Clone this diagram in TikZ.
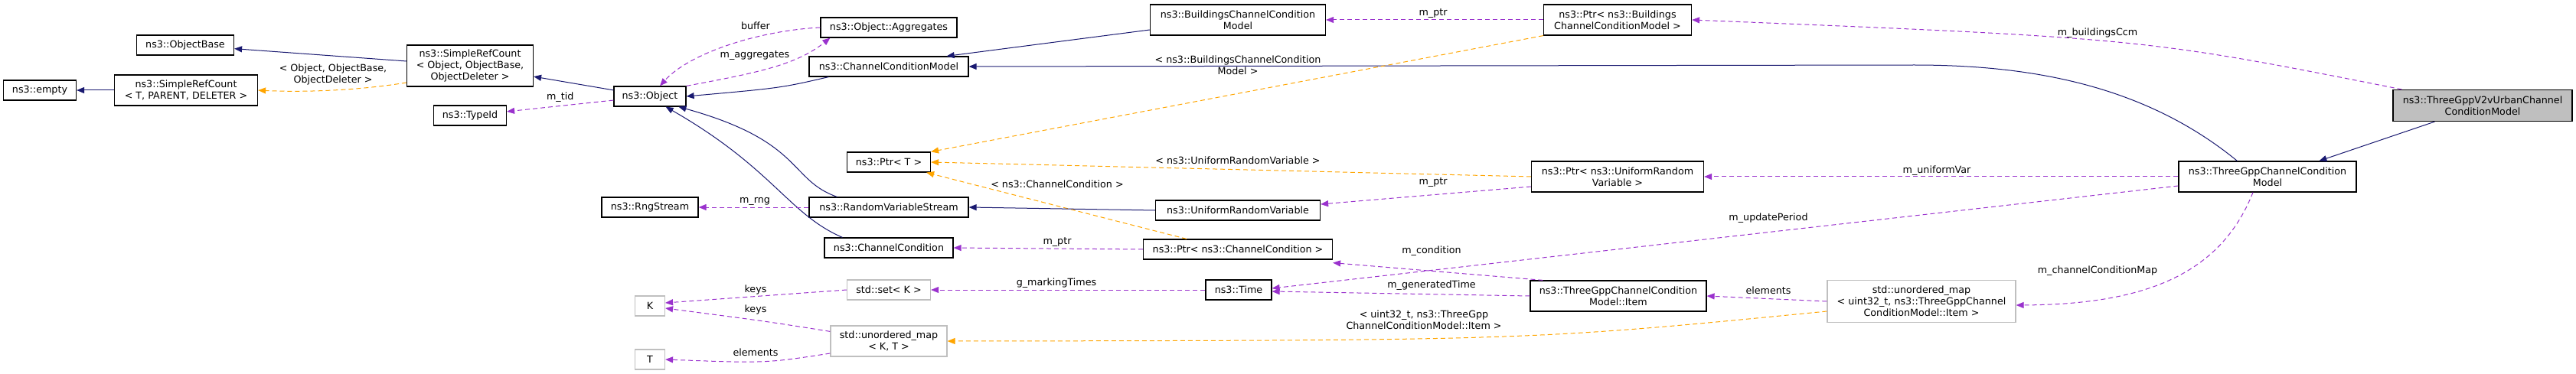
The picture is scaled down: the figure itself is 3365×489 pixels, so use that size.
\documentclass[tikz,border=0pt]{standalone}
\usepackage{fontspec}
\setmainfont{DejaVu Sans}
\usetikzlibrary{arrows.meta}
\definecolor{nav}{HTML}{191970}
\definecolor{pur}{HTML}{9A32CD}
\definecolor{org}{HTML}{FFA500}
\begin{document}
\begin{tikzpicture}[x=1pt,y=-1pt,
  font=\fontsize{12.7}{15}\selectfont,
  box/.style={draw=black,line width=1.2pt,fill=white,inner sep=0pt,align=center},
  gbox/.style={box,draw=black!25},
  inh/.style={draw=nav,line width=1pt,-{Triangle[length=10pt,width=8pt]}},
  usg/.style={draw=pur,dashed,dash pattern=on 6pt off 4pt,line width=1pt,-{Triangle[length=10pt,width=8pt]}},
  tpl/.style={draw=org,dashed,dash pattern=on 6pt off 4pt,line width=1pt,-{Triangle[length=10pt,width=8pt]}},
  lbl/.style={inner sep=0pt,align=center}]
\useasboundingbox (0,0) rectangle (3365,489);
\node[box,minimum width=95pt,minimum height=26pt] (empty) at (52,118) {ns3::empty};
\node[box,minimum width=187pt,minimum height=40pt] (srcT) at (243,118) {ns3::SimpleRefCount\\{}< T, PARENT, DELETER >};
\node[box,minimum width=127pt,minimum height=26pt] (obase) at (242,59) {ns3::ObjectBase};
\node[box,minimum width=165pt,minimum height=54pt] (srcO) at (614,86) {ns3::SimpleRefCount\\{}< Object, ObjectBase,\\ObjectDeleter >};
\node[box,minimum width=95pt,minimum height=26pt] (tid) at (614,151) {ns3::TypeId};
\node[box,minimum width=94pt,minimum height=26pt] (obj) at (849,126) {ns3::Object};
\node[box,minimum width=126pt,minimum height=26pt] (rng) at (849,271) {ns3::RngStream};
\node[gbox,minimum width=39pt,minimum height=26pt] (K) at (849,400) {K};
\node[gbox,minimum width=39pt,minimum height=26pt] (T) at (849,470) {T};
\node[box,minimum width=178pt,minimum height=26pt] (agg) at (1161,36) {ns3::Object::Aggregates};
\node[box,minimum width=208pt,minimum height=26pt] (ccm) at (1161,87) {ns3::ChannelConditionModel};
\node[box,minimum width=109pt,minimum height=26pt] (ptrT) at (1161,212) {ns3::Ptr< T >};
\node[box,minimum width=208pt,minimum height=26pt] (rvs) at (1161,271) {ns3::RandomVariableStream};
\node[box,minimum width=168pt,minimum height=26pt] (cc) at (1161,324) {ns3::ChannelCondition};
\node[gbox,minimum width=109pt,minimum height=26pt] (set) at (1161,379) {std::set< K >};
\node[gbox,minimum width=152pt,minimum height=40pt] (umap) at (1161,446) {std::unordered\_map\\{}< K, T >};
\node[box,minimum width=229pt,minimum height=40pt] (bccm) at (1617,26) {ns3::BuildingsChannelCondition\\Model};
\node[box,minimum width=215pt,minimum height=26pt] (urv) at (1617,275) {ns3::UniformRandomVariable};
\node[box,minimum width=247pt,minimum height=26pt] (ptrcc) at (1617,326) {ns3::Ptr< ns3::ChannelCondition >};
\node[box,minimum width=86pt,minimum height=26pt] (time) at (1618,379) {ns3::Time};
\node[box,minimum width=193pt,minimum height=40pt] (ptrb) at (2113,26) {ns3::Ptr< ns3::Buildings\\ChannelConditionModel >};
\node[box,minimum width=225pt,minimum height=40pt] (ptru) at (2113,231) {ns3::Ptr< ns3::UniformRandom\\Variable >};
\node[box,minimum width=230pt,minimum height=40pt] (item) at (2114,387) {ns3::ThreeGppChannelCondition\\Model::Item};
\node[gbox,minimum width=246pt,minimum height=55pt] (umap32) at (2510,394) {std::unordered\_map\\{}< uint32\_t, ns3::ThreeGppChannel\\ConditionModel::Item >};
\node[box,minimum width=232pt,minimum height=40pt] (tgp) at (2962,231) {ns3::ThreeGppChannelCondition\\Model};
\node[box,fill=black!25,minimum width=234pt,minimum height=41pt] (v2v) at (3243,138) {ns3::ThreeGppV2vUrbanChannel\\ConditionModel};

\draw[inh] (srcT) -- (empty);
\draw[inh] (srcO) -- (obase);
\draw[tpl] ([yshift=-22pt]srcO.west) .. controls (470,118) and (400,121) .. (srcT.east);
\node[lbl] at (435,97) {< Object, ObjectBase,\\ObjectDeleter >};
\draw[inh] (obj) -- (srcO);
\draw[usg] (obj) -- (tid) node[lbl,pos=0.5,above=4pt] {m\_tid};
\draw[usg] (agg.west) .. controls (990,40) and (900,70) .. ([xshift=13pt]obj.north);
\node[lbl] at (987,34) {buffer};
\draw[usg] (obj.north east) .. controls (990,95) and (1040,85) .. ([xshift=13pt]agg.south west);
\node[lbl] at (986,73) {m\_aggregates};
\draw[inh] ([xshift=26pt]ccm.south west) .. controls (1020,115) .. (obj.east);
\draw[inh] ([xshift=37pt]rvs.north west) .. controls (1030,235) and (1050,185) .. (obj.-20);
\draw[inh] ([xshift=24pt]cc.north west) .. controls (1030,280) and (1010,220) .. ([xshift=-27pt]obj.south east);
\draw[usg] (rvs) -- (rng);
\node[lbl] at (986,263) {m\_rng};
\draw[inh] ([yshift=-13pt]bccm.west) -- ([xshift=-29pt]ccm.north east);
\draw[usg] (ptrb) -- (bccm);
\node[lbl] at (1872,18) {m\_ptr};
\draw[inh] ([xshift=77pt]tgp.north west) .. controls (2800,110) and (2650,85) .. (2500,85) -- (ccm.east);
\draw[tpl] (ptrb.south west) -- (ptrT.north east);
\node[lbl] at (1617,85) {< ns3::BuildingsChannelCondition\\Model >};
\draw[tpl] (ptru.west) -- (ptrT.east);
\node[lbl] at (1617,210) {< ns3::UniformRandomVariable >};
\draw[tpl] ([xshift=-67pt]ptrcc.north) -- ([xshift=-6pt]ptrT.south east);
\node[lbl] at (1381,241) {< ns3::ChannelCondition >};
\draw[inh] (urv.west) -- (rvs.east);
\draw[usg] ([yshift=-13pt]ptru.west) -- ([yshift=8pt]urv.east);
\node[lbl] at (1872,239) {m\_ptr};
\draw[usg] (ptrcc.west) -- (cc.east);
\node[lbl] at (1381,317) {m\_ptr};
\draw[usg] ([xshift=12pt]v2v.north west) .. controls (2800,50) .. (ptrb.east);
\node[lbl] at (2740,43) {m\_buildingsCcm};
\draw[inh] ([xshift=55pt]v2v.south west) -- ([xshift=184pt]tgp.north west);
\draw[usg] (tgp.west) -- (ptru.east);
\node[lbl] at (2530,223) {m\_uniformVar};
\draw[usg] ([yshift=-12pt]tgp.west) -- ([yshift=2pt]time.east);
\node[lbl] at (2310,285) {m\_updatePeriod};
\draw[usg] ([xshift=17pt]item.north west) -- ([yshift=-4pt]ptrcc.south east);
\node[lbl] at (1870,328) {m\_condition};
\draw[usg] (item.west) -- ([yshift=-2pt]time.east);
\node[lbl] at (1870,373) {m\_generatedTime};
\draw[usg] (time.west) -- (set.east);
\node[lbl] at (1380,370) {g\_markingTimes};
\draw[usg] (set.west) -- ([yshift=4pt]K.east);
\node[lbl] at (987,379) {keys};
\draw[usg] ([yshift=-8pt]umap.north west) .. controls (1000,420) .. ([yshift=-3pt]K.east);
\node[lbl] at (987,405) {keys};
\draw[usg] ([yshift=-16pt]umap.west) .. controls (1000,475) .. (T.east);
\node[lbl] at (987,461) {elements};
\draw[usg] (umap32.west) -- (item.east);
\node[lbl] at (2310,380) {elements};
\draw[tpl] ([yshift=-13pt]umap32.west) .. controls (2000,445) .. (umap.east);
\node[lbl] at (1860,418) {< uint32\_t, ns3::ThreeGpp\\ChannelConditionModel::Item >};
\draw[usg] ([xshift=-19pt]tgp.south) .. controls (2900,360) and (2800,398) .. ([yshift=-5pt]umap32.east);
\node[lbl] at (2740,354) {m\_channelConditionMap};
\end{tikzpicture}
\end{document}
